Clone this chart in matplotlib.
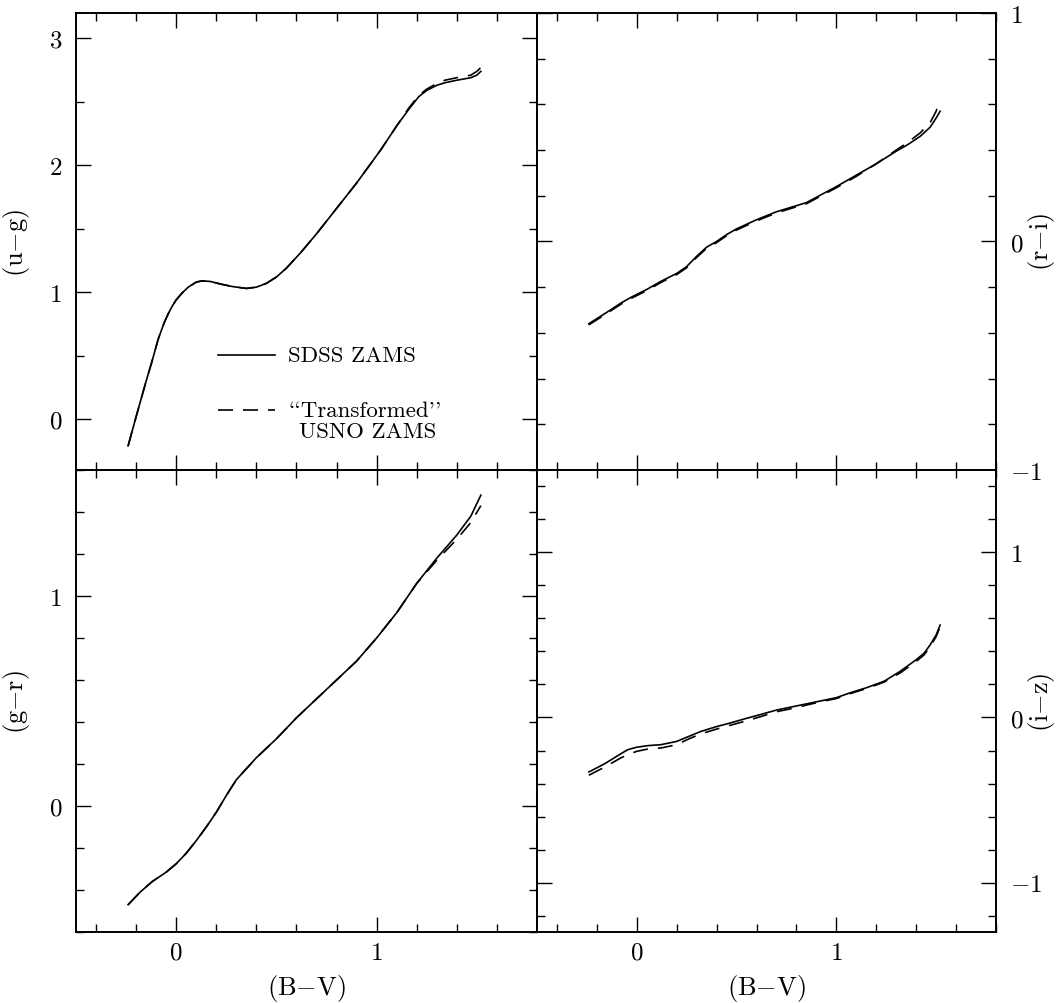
import matplotlib

matplotlib.use("Agg")
import matplotlib.pyplot as plt
from matplotlib.ticker import MultipleLocator

plt.rcParams["font.family"] = ["cmr10", "DejaVu Serif"]
plt.rcParams["mathtext.fontset"] = "cm"
plt.rcParams["axes.formatter.use_mathtext"] = True

# (u-g) vs (B-V)
bv_ug = [-0.24, -0.2, -0.15, -0.12, -0.09, -0.06, -0.04, -0.02, 0.0, 0.03, 0.06, 0.1,
         0.13, 0.17, 0.22, 0.28, 0.35, 0.4, 0.45, 0.5, 0.55, 0.62, 0.7, 0.8, 0.9, 1.02,
         1.1, 1.16, 1.21, 1.25, 1.3, 1.34, 1.4, 1.47, 1.5, 1.52]
ug_sdss = [-0.21, 0.02, 0.30, 0.46, 0.63, 0.76, 0.83, 0.89, 0.94, 0.995, 1.04, 1.08,
           1.09, 1.085, 1.065, 1.045, 1.03, 1.04, 1.07, 1.12, 1.19, 1.31, 1.46, 1.66,
           1.86, 2.12, 2.31, 2.44, 2.54, 2.59, 2.63, 2.65, 2.67, 2.69, 2.71, 2.74]
ug_usno = [-0.21, 0.02, 0.30, 0.46, 0.63, 0.76, 0.83, 0.89, 0.94, 0.995, 1.04, 1.08,
           1.09, 1.085, 1.065, 1.045, 1.03, 1.04, 1.07, 1.12, 1.19, 1.31, 1.46, 1.66,
           1.86, 2.12, 2.31, 2.45, 2.55, 2.60, 2.645, 2.67, 2.69, 2.71, 2.74, 2.77]

# (r-i) vs (B-V)
bv_ri = [-0.24, -0.15, -0.08, -0.03, 0.05, 0.12, 0.2, 0.25, 0.3, 0.35, 0.4, 0.45, 0.5,
         0.6, 0.7, 0.85, 1.0, 1.1, 1.2, 1.3, 1.36, 1.42, 1.47, 1.5, 1.52]
ri_sdss = [-0.36, -0.31, -0.27, -0.245, -0.21, -0.175, -0.14, -0.11, -0.065, -0.025,
           0.0, 0.03, 0.055, 0.095, 0.13, 0.17, 0.24, 0.29, 0.34, 0.395, 0.425, 0.46,
           0.50, 0.54, 0.57]
ri_usno = [-0.365, -0.315, -0.275, -0.25, -0.215, -0.18, -0.145, -0.115, -0.07, -0.03,
           -0.005, 0.025, 0.05, 0.09, 0.125, 0.165, 0.235, 0.285, 0.34, 0.40, 0.435,
           0.475, 0.52, 0.57, 0.62]

# (g-r) vs (B-V)
bv_gr = [-0.24, -0.18, -0.12, -0.05, 0.0, 0.05, 0.1, 0.15, 0.2, 0.25, 0.3, 0.4, 0.5,
         0.6, 0.7, 0.8, 0.9, 1.0, 1.1, 1.2, 1.3, 1.4, 1.47, 1.52]
gr_sdss = [-0.47, -0.41, -0.36, -0.315, -0.275, -0.225, -0.165, -0.10, -0.03, 0.05, 0.125,
           0.23, 0.32, 0.42, 0.51, 0.60, 0.69, 0.80, 0.92, 1.06, 1.18, 1.29, 1.38, 1.48]
gr_usno = [-0.47, -0.41, -0.36, -0.315, -0.275, -0.225, -0.165, -0.10, -0.03, 0.05, 0.125,
           0.23, 0.32, 0.42, 0.51, 0.60, 0.69, 0.80, 0.92, 1.06, 1.17, 1.27, 1.35, 1.43]

# (i-z) vs (B-V)
bv_iz = [-0.24, -0.16, -0.08, -0.045, 0.0, 0.06, 0.12, 0.2, 0.26, 0.32, 0.4, 0.46,
         0.55, 0.62, 0.7, 0.78, 0.86, 0.92, 1.0, 1.07, 1.15, 1.24, 1.32, 1.4, 1.44,
         1.47, 1.5, 1.52]
iz_sdss = [-0.33, -0.28, -0.22, -0.195, -0.18, -0.17, -0.165, -0.145, -0.115, -0.085,
           -0.055, -0.036, -0.005, 0.018, 0.045, 0.065, 0.085, 0.10, 0.12, 0.15, 0.18,
           0.22, 0.28, 0.35, 0.39, 0.44, 0.50, 0.56]
iz_usno = [-0.35, -0.30, -0.245, -0.225, -0.205, -0.19, -0.185, -0.165, -0.13, -0.10,
           -0.07, -0.05, -0.02, 0.005, 0.035, 0.055, 0.078, 0.095, 0.115, 0.145, 0.175,
           0.215, 0.27, 0.34, 0.38, 0.43, 0.49, 0.55]

DASH = (0, (9, 6))


def style_axes(ax, ylim, ymajor, yminor, side, bottom):
    ax.set_xlim(-0.5, 1.8)
    ax.set_ylim(*ylim)
    ax.xaxis.set_major_locator(MultipleLocator(1))
    ax.xaxis.set_minor_locator(MultipleLocator(0.2))
    ax.yaxis.set_major_locator(MultipleLocator(ymajor))
    ax.yaxis.set_minor_locator(MultipleLocator(yminor))
    ax.tick_params(which="both", direction="in", top=True, bottom=True, left=True, right=True,
                   width=1.0, labelsize=18)
    ax.tick_params(which="major", length=11)
    ax.tick_params(which="minor", length=5.5)
    ax.tick_params(axis="x", pad=7, labelbottom=bottom)
    ax.tick_params(axis="y", pad=10, labelleft=(side == "left"), labelright=(side == "right"))
    for sp in ax.spines.values():
        sp.set_linewidth(1.4)
    if bottom:
        ax.set_xlabel(r"$\mathrm{(B{-}V)}$", fontsize=19, labelpad=6)


fig = plt.figure(figsize=(10.57, 10.04), dpi=100)
ax_ug = fig.add_axes([0.0719, 0.5309, 0.4361, 0.4552])
ax_ri = fig.add_axes([0.5080, 0.5309, 0.4343, 0.4552])
ax_gr = fig.add_axes([0.0719, 0.0707, 0.4361, 0.4602])
ax_iz = fig.add_axes([0.5080, 0.0707, 0.4343, 0.4602])

panels = [
    (ax_ug, bv_ug, ug_sdss, ug_usno, (-0.4, 3.2), 1, 0.5, "left", False, r"$\mathrm{(u{-}g)}$"),
    (ax_ri, bv_ri, ri_sdss, ri_usno, (-1, 1), 1, 0.2, "right", False, r"$\mathrm{(r{-}i)}$"),
    (ax_gr, bv_gr, gr_sdss, gr_usno, (-0.6, 1.6), 1, 0.2, "left", True, r"$\mathrm{(g{-}r)}$"),
    (ax_iz, bv_iz, iz_sdss, iz_usno, (-1.3, 1.5), 1, 0.2, "right", True, r"$\mathrm{(i{-}z)}$"),
]
for ax, x, y_sdss, y_usno, ylim, ymaj, ymin, side, bottom, ylabel in panels:
    ax.plot(x, y_sdss, color="black", lw=1.2)
    ax.plot(x, y_usno, color="black", lw=1.2, linestyle=DASH)
    style_axes(ax, ylim, ymaj, ymin, side, bottom)
    lx = 1.1 if side == "right" else -0.128
    ax.text(lx, 0.5, ylabel, transform=ax.transAxes, fontsize=19, rotation=90,
            ha="center", va="center")

# legend drawn by hand in the (u-g) panel
ax_ug.plot([0.308, 0.432], [0.2516, 0.2516], transform=ax_ug.transAxes, color="black", lw=1.2)
ax_ug.plot([0.308, 0.432], [0.131, 0.131], transform=ax_ug.transAxes, color="black", lw=1.2,
           linestyle=DASH)
ax_ug.text(0.46, 0.2516, "SDSS ZAMS", transform=ax_ug.transAxes, fontsize=16.5, va="center")
ax_ug.text(0.46, 0.131, "``Transformed''", transform=ax_ug.transAxes, fontsize=16.5, va="center")
ax_ug.text(0.484, 0.085, "USNO ZAMS", transform=ax_ug.transAxes, fontsize=16.5, va="center")

fig.savefig("out.png", dpi=100)
